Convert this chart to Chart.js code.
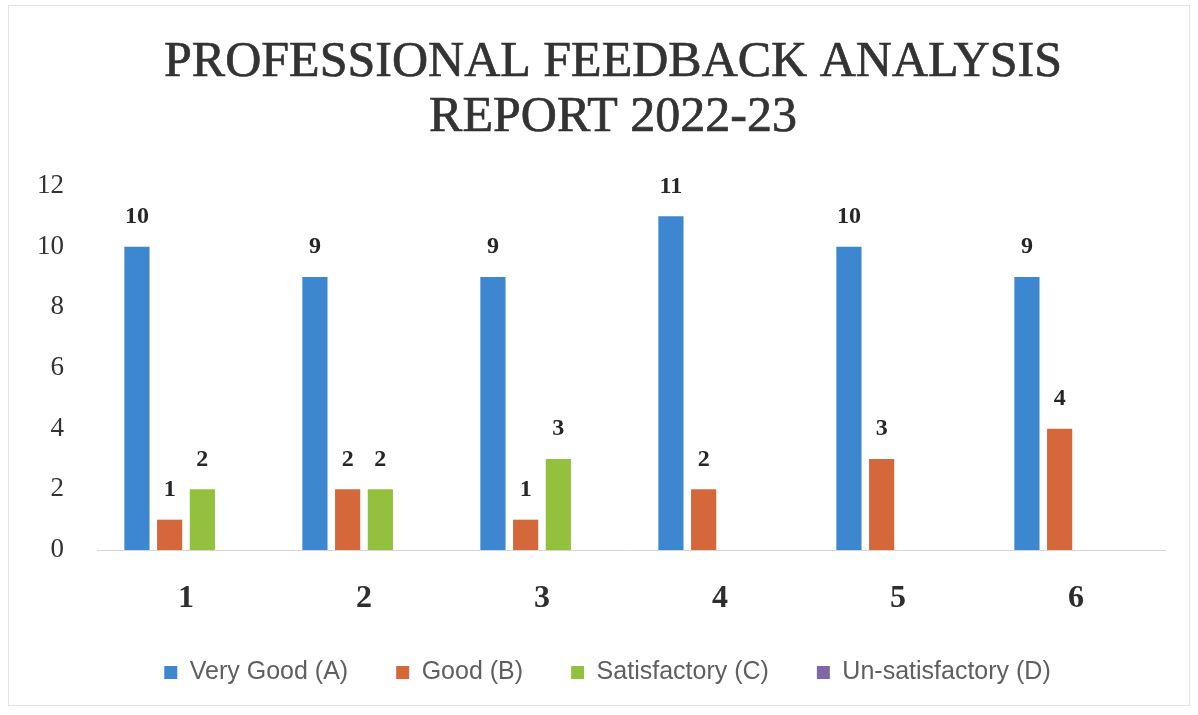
<!DOCTYPE html>
<html>
<head>
<meta charset="utf-8">
<script src="https://cdn.jsdelivr.net/npm/chart.js@4.4.1/dist/chart.umd.min.js"></script>
<style>
  html, body { margin: 0; padding: 0; background: #fff; }
  #wrap { width: 1198px; height: 715px; position: relative; }
</style>
</head>
<body>
<div id="wrap"><canvas id="barChart"></canvas></div>
<script>
const categories = ['1', '2', '3', '4', '5', '6'];
const veryGood = [10, 9, 9, 11, 10, 9];
const good = [1, 2, 1, 2, 3, 4];
const satisfactory = [2, 2, 3, 0, 0, 0];
const unSatisfactory = [0, 0, 0, 0, 0, 0];
const yTicks = [0, 2, 4, 6, 8, 10, 12];
const titleLines = ['PROFESSIONAL FEEDBACK ANALYSIS', 'REPORT 2022-23'];

// title (it sits a bit right of the plot centre), value labels, faint frame
const decorations = {
  id: 'decorations',
  afterLayout(chart) {
    // legend row is centred on the whole picture, not the plot
    if (chart.legend) {
      chart.legend.left += 25;
      chart.legend.right += 25;
    }
  },
  beforeDraw(chart) {
    const c = chart.ctx;
    c.save();
    c.strokeStyle = '#e4e4e4';
    c.lineWidth = 1;
    c.strokeRect(8.5, 5.5, 1181, 700);

    c.font = '50px "Liberation Serif"';
    c.fillStyle = '#333333';
    c.strokeStyle = '#333333';
    c.lineWidth = 0.7;
    c.textAlign = 'center';
    c.textBaseline = 'alphabetic';
    titleLines.forEach((line, i) => {
      c.fillText(line, 613, 76 + i * 55);
      c.strokeText(line, 613, 76 + i * 55);
    });
    c.restore();
  },
  afterDatasetsDraw(chart) {
    const c = chart.ctx;
    c.save();
    c.font = 'bold 24px "Liberation Serif"';
    c.fillStyle = '#262626';
    c.textAlign = 'center';
    c.textBaseline = 'middle';
    chart.data.datasets.forEach((ds, i) => {
      const meta = chart.getDatasetMeta(i);
      meta.data.forEach((bar, j) => {
        const v = ds.data[j];
        if (!v) return;
        c.fillText(String(v), bar.x, bar.y - 30);
      });
    });
    c.restore();
  }
};

const data = {
  labels: categories,
  datasets: [
    { label: 'Very Good (A)', data: veryGood, backgroundColor: '#3c87d0' },
    { label: 'Good (B)', data: good, backgroundColor: '#d5683b' },
    { label: 'Satisfactory (C)', data: satisfactory, backgroundColor: '#93c13d' },
    { label: 'Un-satisfactory (D)', data: unSatisfactory, backgroundColor: '#8068a8' }
  ]
};

const config = {
  type: 'bar',
  data: data,
  plugins: [decorations],
  options: {
    responsive: true,
    maintainAspectRatio: false,
    animation: false,
    layout: { padding: { left: 0, right: 33, top: 186, bottom: 20 } },
    datasets: {
      bar: { categoryPercentage: 0.735, barPercentage: 0.77, borderWidth: 0 }
    },
    plugins: {
      title: { display: false },
      legend: {
        position: 'bottom',
        labels: {
          boxWidth: 13,
          boxHeight: 13,
          padding: 48,
          color: '#5f5f5f',
          font: { family: 'Liberation Sans', size: 25 }
        }
      },
      tooltip: { enabled: false }
    },
    scales: {
      x: {
        grid: { display: false, drawTicks: false },
        border: { display: true, color: '#d6d6d6', dash: [4, 3], width: 1 },
        ticks: {
          padding: 30,
          color: '#2e2e2e',
          font: { family: 'Liberation Serif', size: 32, weight: 'bold' }
        },
        afterFit(scale) { scale.height = 62; }
      },
      y: {
        min: 0,
        max: 12,
        afterBuildTicks(scale) { scale.ticks = yTicks.map(v => ({ value: v })); },
        grid: { display: false, drawTicks: false },
        border: { display: false },
        ticks: {
          padding: 33,
          color: '#333333',
          font: { family: 'Liberation Serif', size: 27 }
        },
        afterFit(scale) { scale.width = 97; }
      }
    }
  }
};

new Chart(document.getElementById('barChart'), config);
</script>
</body>
</html>
